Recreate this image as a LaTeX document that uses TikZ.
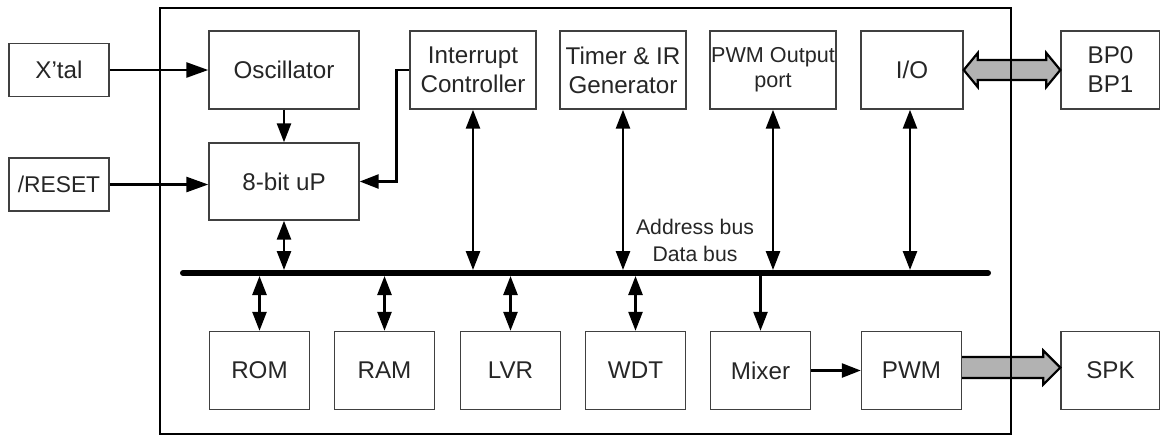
\documentclass[tikz,border=0pt]{standalone}
\usepackage{fontspec}
\setmainfont{Liberation Sans}
\usetikzlibrary{arrows.meta,calc}
\definecolor{fatgray}{RGB}{178,178,178}
\tikzset{
  blk/.style={draw=black!75, line width=0.7pt, inner sep=0pt, minimum height=39pt,
    text=black!85, align=center, font=\fontsize{12.1}{14.5}\selectfont},
  wire/.style={line width=1.3pt, >={Triangle[length=9.5pt,width=7pt]}},
  bigwire/.style={wire, >={Triangle[length=11pt,width=7.5pt]}},
  fat/.style={draw=black, line width=1.1pt, fill=fatgray, line join=miter},
}
\begin{document}
\begin{tikzpicture}[x=0.5pt,y=-0.5pt]
      \useasboundingbox (0,0) rectangle (1160,436);
      % outside
      \node[blk, minimum width=50pt, minimum height=26.5pt] (xtal) at (59,70) {X’tal};
      \node[blk, minimum width=50pt, minimum height=26.5pt, font=\fontsize{11.4}{14}\selectfont] (reset) at (59,184.5) {/RESET};
      \node[blk, minimum width=49.5pt] (bp) at (1110.5,70) {BP0\\BP1};
      \node[blk, minimum width=49.5pt] (spk) at (1110.5,370.5) {SPK};
      % top row
      \node[blk, minimum width=75pt] (osc) at (284,70) {Oscillator};
      \node[blk, minimum width=75pt, minimum height=38.5pt] (up) at (284,181.5) {8-bit uP};
      \node[blk, minimum width=63pt] (intc) at (473,70) {Interrupt\\Controller};
      \node[blk, minimum width=63pt] (timer) at (623,70) {Timer \& IR\\Generator};
      \node[blk, minimum width=63pt, font=\fontsize{10.8}{12.5}\selectfont] (pwmo) at (773,70) {PWM Output\\port};
      \node[blk, minimum width=51pt] (io) at (912,70) {I/O};
      % bottom row
      \node[blk, minimum width=50pt] (rom) at (259.5,370.5) {ROM};
      \node[blk, minimum width=50pt] (ram) at (384.5,370.5) {RAM};
      \node[blk, minimum width=50pt] (lvr) at (510.5,370.5) {LVR};
      \node[blk, minimum width=50pt] (wdt) at (635.5,370.5) {WDT};
      \node[blk, minimum width=50pt] (mixer) at (760.5,370.5) {Mixer};
      \node[blk, minimum width=50pt] (pwm) at (911.5,370.5) {PWM};
      % bus
      \coordinate (busL) at (183,273);
      \coordinate (busR) at (988,273);
      \draw[line width=3pt, line cap=round] (busL) -- (busR);
      \node[text=black!85, align=center, font=\fontsize{10.6}{13.5}\selectfont] (buslbl) at (695,240) {Address bus\\Data bus};
      % control lines
      \draw[bigwire,->] (xtal) -- (osc);
      \draw[bigwire,->] (reset.east) -- (reset.east -| up.west);
      \draw[wire,->] (osc) -- (up);
      \draw[wire,->] (intc.west) -- ++(-13,0) |- (up.east);
      \draw[wire,->] (mixer) -- (pwm);
      % bus lines
      \draw[wire,<->, shorten >=1.5pt] (up.south) -- (up.south |- busL);
      \foreach \blkname in {intc,timer,pwmo}
        \draw[wire,<->, shorten >=1.5pt] (\blkname.south) -- (\blkname.south |- busL);
      \draw[wire,<->, shorten >=1.5pt] ([xshift=-1pt]io.south) -- ([xshift=-1pt]io.south |- busL);
      \foreach \blkname in {rom,ram,lvr,wdt}
        \draw[wire,<->, shorten <=1.5pt] (\blkname.north |- busL) -- (\blkname.north);
      \draw[wire,->, shorten <=1.5pt] (mixer.north |- busL) -- (mixer.north);
      % fat arrows
      \draw[fat] (io.east) -- ($(io.east)+(14,-17)$) -- ($(io.east)+(14,-10)$)
        -- ($(bp.west)+(-14,-10)$) -- ($(bp.west)+(-14,-17)$) -- (bp.west)
        -- ($(bp.west)+(-14,17)$) -- ($(bp.west)+(-14,10)$)
        -- ($(io.east)+(14,10)$) -- ($(io.east)+(14,17)$) -- cycle;
      \draw[fat] ($(pwm.east)+(0,-13.5)$) -- ($(spk.west)+(-17,-13.5)$) -- ($(spk.west)+(-17,-20)$)
        -- ($(spk.west)+(0,-3)$) -- ($(spk.west)+(-17,14)$) -- ($(spk.west)+(-17,7.5)$)
        -- ($(pwm.east)+(0,7.5)$);
      % chip outline
      \draw[line width=1.1pt] (160,8) rectangle (1011,434);
    \end{tikzpicture}
\end{document}
